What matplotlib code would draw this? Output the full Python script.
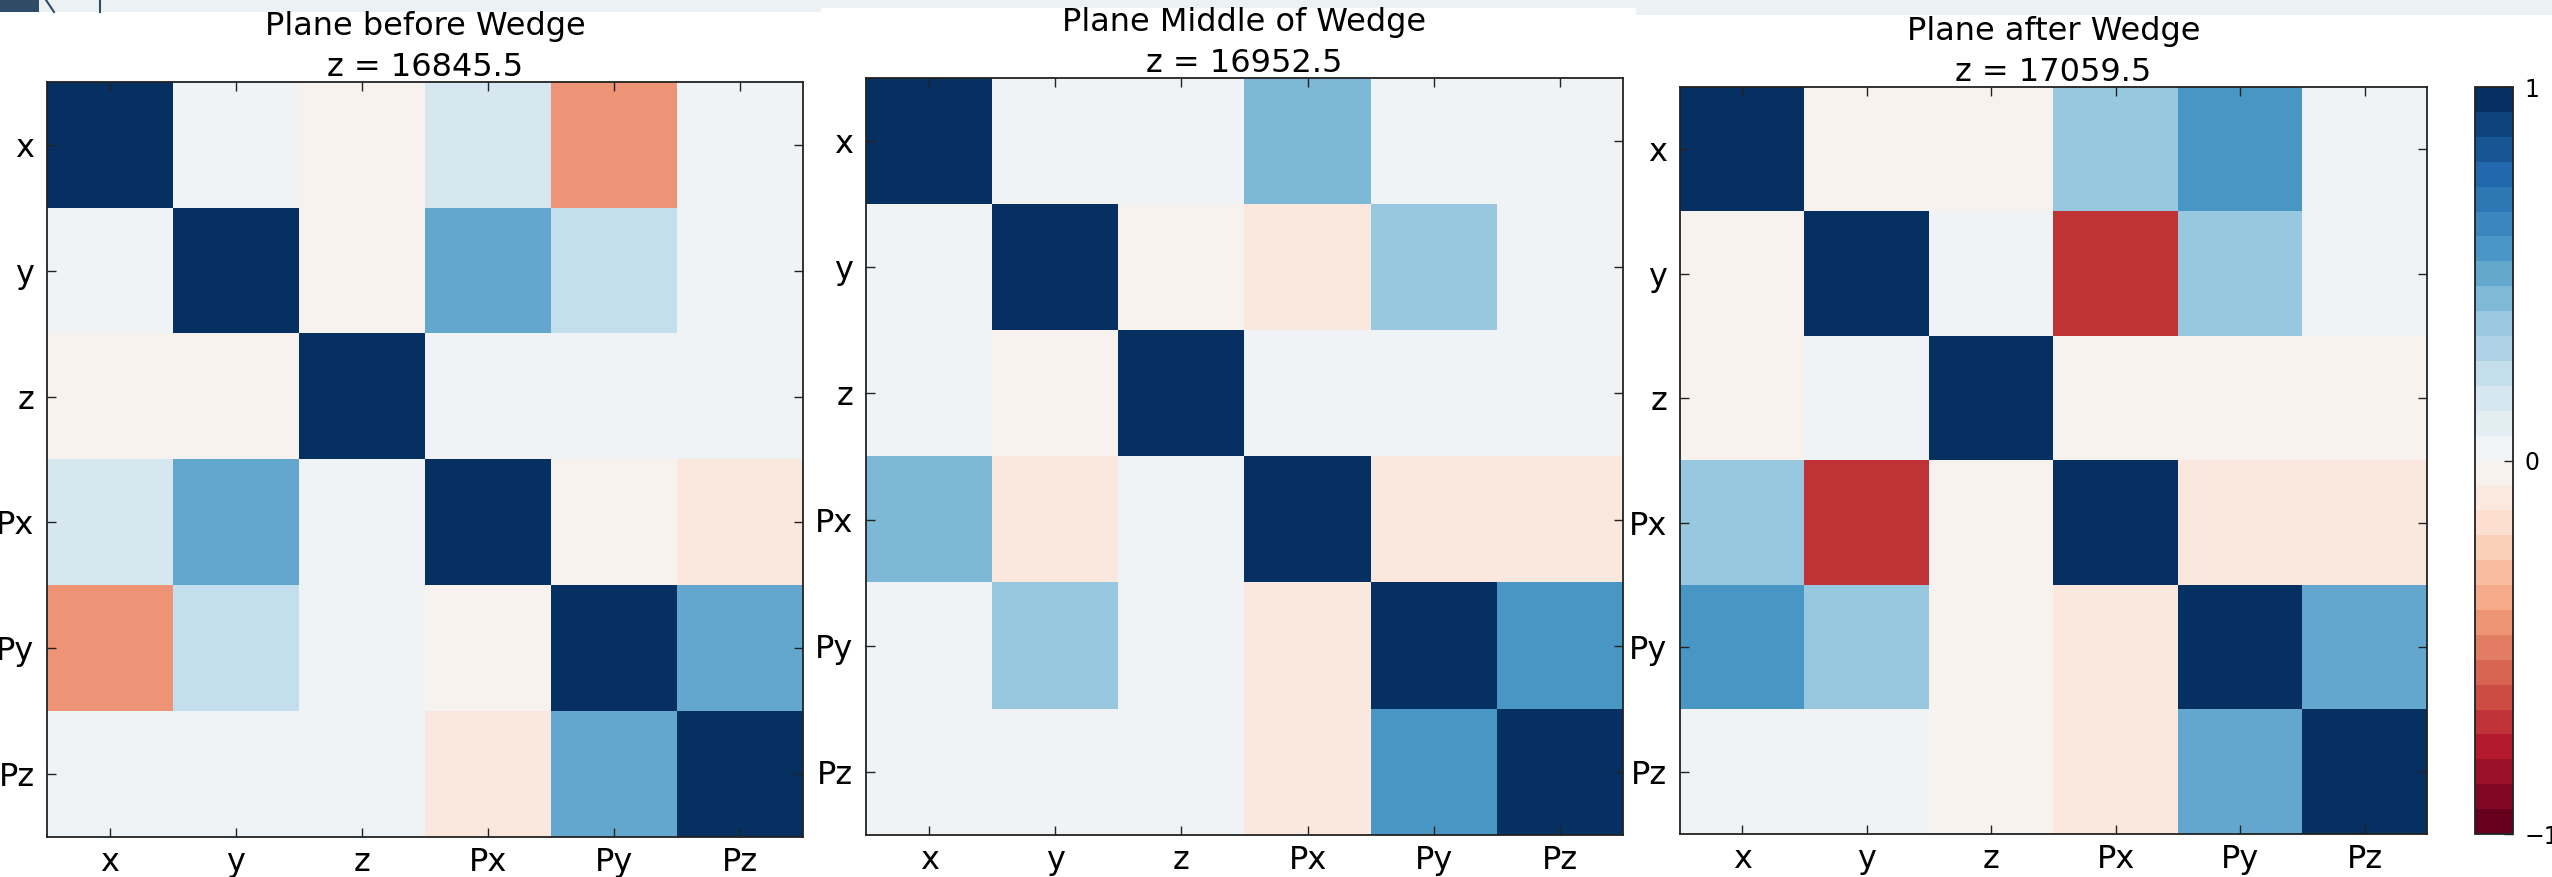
import matplotlib
matplotlib.use('Agg')
import matplotlib.pyplot as plt
import numpy as np
from matplotlib.patches import Rectangle
from matplotlib.lines import Line2D

# ---------------- data ----------------
labels = ['x', 'y', 'z', 'Px', 'Py', 'Pz']

title_before = 'Plane before Wedge\nz = 16845.5'
title_middle = 'Plane Middle of Wedge\nz = 16952.5'
title_after = 'Plane after Wedge\nz = 17059.5'

corr_before = [
    [1.00, 0.03, -0.03, 0.17, -0.43, 0.03],
    [0.03, 1.00, -0.03, 0.50, 0.23, 0.03],
    [-0.03, -0.03, 1.00, 0.03, 0.03, 0.03],
    [0.17, 0.50, 0.03, 1.00, -0.03, -0.10],
    [-0.43, 0.23, 0.03, -0.03, 1.00, 0.50],
    [0.03, 0.03, 0.03, -0.10, 0.50, 1.00],
]
corr_middle = [
    [1.00, 0.03, 0.03, 0.43, 0.03, 0.03],
    [0.03, 1.00, -0.03, -0.10, 0.37, 0.03],
    [0.03, -0.03, 1.00, 0.03, 0.03, 0.03],
    [0.43, -0.10, 0.03, 1.00, -0.10, -0.10],
    [0.03, 0.37, 0.03, -0.10, 1.00, 0.57],
    [0.03, 0.03, 0.03, -0.10, 0.57, 1.00],
]
corr_after = [
    [1.00, -0.03, -0.03, 0.37, 0.57, 0.03],
    [-0.03, 1.00, 0.03, -0.70, 0.37, 0.03],
    [-0.03, 0.03, 1.00, -0.03, -0.03, -0.03],
    [0.37, -0.70, -0.03, 1.00, -0.10, -0.10],
    [0.57, 0.37, -0.03, -0.10, 1.00, 0.50],
    [0.03, 0.03, -0.03, -0.10, 0.50, 1.00],
]
cbar_ticks = [-1, 0, 1]

# ---------------- figure ----------------
W, H = 2552, 877
fig = plt.figure(figsize=(W / 100, H / 100), dpi=100)
fig.patch.set_facecolor('white')


def px_axes(left, top, right, bottom):
    return fig.add_axes([left / W, 1 - bottom / H, (right - left) / W, (bottom - top) / H])


def px_rect(x0, y0, x1, y1, color):
    fig.add_artist(Rectangle((x0 / W, 1 - y1 / H), (x1 - x0) / W, (y1 - y0) / H,
                             transform=fig.transFigure, facecolor=color,
                             edgecolor='none', zorder=0))


# screenshot strip artifacts at the top
band = '#ecf1f4'
px_rect(0, 0, 821, 12, band)
px_rect(821, 0, 1636, 8, band)
px_rect(1636, 0, 2552, 15, band)
px_rect(0, 0, 39, 12, '#2e4c66')
for xs in ([46, 50, 54], [100, 100, 100]):
    fig.add_artist(Line2D([x / W for x in xs], [1, 1 - 6 / H, 1 - 12 / H],
                          transform=fig.transFigure, color='#2e4c66', lw=1.5))

cmap = plt.get_cmap('RdBu', 30)

boxes = [(47, 82, 803, 837), (866, 78, 1623, 835), (1680, 87, 2427, 834)]
mats = [corr_before, corr_middle, corr_after]
titles = [title_before, title_middle, title_after]

FS = 23
im = None
for box, mat, title in zip(boxes, mats, titles):
    ax = px_axes(*box)
    im = ax.imshow(np.array(mat), cmap=cmap, vmin=-1, vmax=1,
                   interpolation='nearest', aspect='auto')
    ax.set_xticks(range(len(labels)))
    ax.set_yticks(range(len(labels)))
    ax.set_xticklabels(labels)
    ax.set_yticklabels(labels)
    ax.tick_params(direction='in', length=6.5, width=1, labelsize=FS, pad=7,
                   top=True, right=True, color='#222222')
    ax.tick_params(axis='y', pad=9)
    for s in ax.spines.values():
        s.set_linewidth(1.3)
        s.set_color('#222222')
    ax.set_title(title, fontsize=FS, pad=4, linespacing=1.45)

cax = px_axes(2475, 87, 2513, 834)
cb = fig.colorbar(im, cax=cax, ticks=cbar_ticks)
cb.ax.tick_params(direction='in', length=6.5, width=1, labelsize=17, pad=8,
                  color='#222222')
cb.outline.set_linewidth(1.3)
cb.outline.set_edgecolor('#222222')

fig.savefig('out.png', dpi=100)
